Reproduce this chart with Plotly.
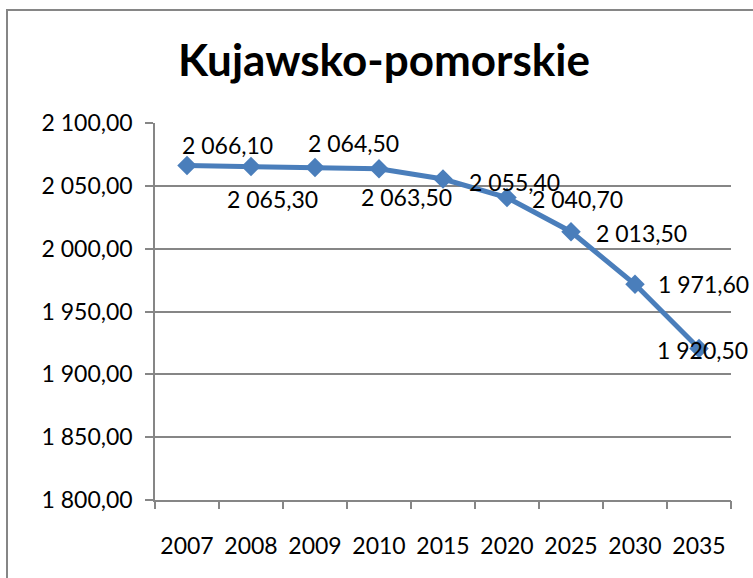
import plotly.graph_objects as go

years = ["2007", "2008", "2009", "2010", "2015", "2020", "2025", "2030", "2035"]
population = [2066.10, 2065.30, 2064.50, 2063.50, 2055.40, 2040.70, 2013.50, 1971.60, 1920.50]
y_tick_values = [1800, 1850, 1900, 1950, 2000, 2050, 2100]
y_tick_labels = ["1 800,00", "1 850,00", "1 900,00", "1 950,00", "2 000,00", "2 050,00", "2 100,00"]
title_text = "Kujawsko-pomorskie"

# data-label pixel offsets from their points (style)
label_dx = [40, 21, 38, 27, 71, 70, 70, 68, 3]
label_dy = [-21, 32, -25, 28, 3, 1, 1, 0, 1]


def pl_fmt(v):
    s = f"{v:,.2f}"
    return s.replace(",", " ").replace(".", ",")


W, H = 753, 578
L, R, T, B = 155, 22, 123, 78
FONT = "Lato, Open Sans, sans-serif"
GRAY = "#868686"
BLUE = "#4A7EBB"

fig = go.Figure()
fig.add_trace(go.Scatter(
    x=list(range(len(years))), y=population, mode="lines+markers",
    line=dict(color=BLUE, width=5),
    marker=dict(symbol="diamond", size=15, color=BLUE),
    hoverinfo="skip", showlegend=False,
))

for i, (v, dx, dy) in enumerate(zip(population, label_dx, label_dy)):
    fig.add_annotation(x=i, y=v, xref="x", yref="y", text=pl_fmt(v), showarrow=False,
                       xshift=dx, yshift=-dy,
                       font=dict(family=FONT, size=23, color="black"))

pw = W - L - R
ph = H - T - B
# outer chart border (left and top edges visible)
fig.add_shape(type="rect", xref="paper", yref="paper",
              x0=(7 - L) / pw, x1=(W + 20 - L) / pw,
              y0=-(B + 20) / ph, y1=(H - 10 - B) / ph,
              line=dict(color=GRAY, width=2), layer="below")

fig.update_layout(
    width=W, height=H,
    margin=dict(l=L, r=R, t=T, b=B),
    paper_bgcolor="white", plot_bgcolor="white",
    title=dict(text="<b>" + title_text + "</b>", x=384 / W, xanchor="center",
               y=1 - 61 / H, yanchor="middle",
               font=dict(family=FONT, size=44, color="black")),
    xaxis=dict(range=[-0.5, 8.5], showgrid=False,
               tickvals=list(range(len(years))), ticktext=years,
               showline=True, linecolor=GRAY, linewidth=1.5,
               ticks="", ticklabelstandoff=25,
               tickfont=dict(family=FONT, size=23, color="black"),
               zeroline=False, fixedrange=True),
    xaxis2=dict(overlaying="x", range=[-0.5, 8.5], side="bottom",
                tickvals=[i - 0.5 for i in range(len(years) + 1)],
                showticklabels=False, showgrid=False, showline=False,
                ticks="outside", ticklen=8, tickcolor=GRAY, tickwidth=1.5,
                zeroline=False, fixedrange=True),
    yaxis=dict(range=[1800, 2100], tickvals=y_tick_values, ticktext=y_tick_labels,
               showgrid=True, gridcolor=GRAY, gridwidth=1.5,
               showline=True, linecolor=GRAY, linewidth=1.5,
               ticks="outside", ticklen=8, tickcolor=GRAY, tickwidth=1.5,
               ticklabelstandoff=8, zeroline=False,
               tickfont=dict(family=FONT, size=23, color="black"),
               fixedrange=True),
)
# invisible trace to activate the tick-mark axis
fig.add_trace(go.Scatter(x=[0], y=[None], xaxis="x2", yaxis="y", showlegend=False,
                         hoverinfo="skip", mode="markers", marker=dict(opacity=0)))

fig.write_html("out.html", config={"displayModeBar": False},
               post_script="document.body.style.margin='0';")
